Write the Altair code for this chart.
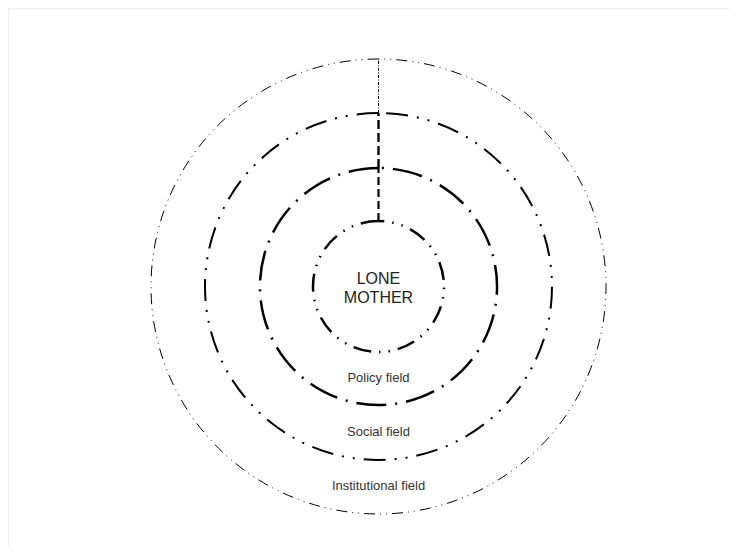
import math
import altair as alt
import pandas as pd

# ---- data -------------------------------------------------------------
ring_names = ["Lone mother", "Policy field", "Social field", "Institutional field"]
ring_radii = [65.5, 118.5, 173.5, 227.5]
field_labels = ["Policy field", "Social field", "Institutional field"]
centre_label = "LONE\nMOTHER"

W, H = 721, 541          # plot area, fits inside the 737x557 window
CX, CY = 370.5, 278.5    # centre of the rings from the plot's top-left

xscale = alt.Scale(domain=[-CX, W - CX], nice=False, zero=False)
yscale = alt.Scale(domain=[-(H - CY), CY], nice=False, zero=False)
rscale = alt.Scale(type="linear", domain=[0, 100], range=[0, 100], zero=True, nice=False)

ring_style = {
    "Lone mother": dict(strokeDash=[18, 8, 1.5, 8, 1.5, 8], strokeWidth=2.5),
    "Policy field": dict(strokeDash=[30, 9, 2, 9], strokeWidth=2.5),
    "Social field": dict(strokeDash=[22, 9, 2, 9, 2, 9], strokeWidth=2),
    "Institutional field": dict(strokeDash=[11, 5, 1, 5, 1, 5], strokeWidth=1),
}
spoke_style = {
    "Policy field": dict(strokeDash=[8, 4], strokeWidth=2.2),
    "Social field": dict(strokeDash=[9, 4], strokeWidth=2.4),
    "Institutional field": dict(strokeDash=[3, 1.5, 1, 1.5], strokeWidth=1),
}

X0 = alt.X(datum=0, type="quantitative", scale=xscale, axis=None)
Y0 = alt.Y(datum=0, type="quantitative", scale=yscale, axis=None)

layers = []

# light frame on the top and left edges (runs on to the window's edge)
frame_top = alt.Chart(pd.DataFrame({"k": [0]})).mark_rule(
    color="#dddddd", strokeWidth=1, clip=False
).encode(
    x=alt.X(datum=-CX, type="quantitative", scale=xscale, axis=None),
    x2=alt.X2(datum=W - CX + 40),
    y=alt.Y(datum=CY, type="quantitative", scale=yscale, axis=None),
)
frame_left = alt.Chart(pd.DataFrame({"k": [0]})).mark_rule(
    color="#dddddd", strokeWidth=1, clip=False
).encode(
    x=alt.X(datum=-CX, type="quantitative", scale=xscale, axis=None),
    y=alt.Y(datum=CY, type="quantitative", scale=yscale, axis=None),
    y2=alt.Y2(datum=-(H - CY) - 40),
)
layers += [frame_top, frame_left]

for name, r in zip(ring_names, ring_radii):
    df = pd.DataFrame({"name": [name], "r": [r]})
    layers.append(
        alt.Chart(df).mark_arc(
            filled=False, fill=None, stroke="black", **ring_style[name]
        ).encode(
            x=X0, y=Y0,
            theta=alt.Theta(datum=math.tau, type="quantitative",
                            scale=alt.Scale(domain=[0, math.tau], range=[0, math.tau])),
            radius=alt.Radius("r:Q", scale=rscale),
        )
    )

for name, r0, r1 in zip(ring_names[1:], ring_radii[:-1], ring_radii[1:]):
    df = pd.DataFrame({"name": [name], "r_from": [r0], "r_to": [r1]})
    layers.append(
        alt.Chart(df).mark_rule(color="black", **spoke_style[name]).encode(
            x=X0,
            y=alt.Y("r_from:Q", scale=yscale, axis=None),
            y2="r_to:Q",
        )
    )

labels = pd.DataFrame({
    "label": field_labels,
    "pos": [-(a + b) / 2 for a, b in zip(ring_radii[:-1], ring_radii[1:])],
})
layers.append(
    alt.Chart(labels).mark_text(
        font="Liberation Sans", fontSize=13, color="#333333", baseline="middle", dy=-1
    ).encode(x=X0, y=alt.Y("pos:Q", scale=yscale, axis=None), text="label:N")
)

centre = pd.DataFrame({"label": [centre_label]})
layers.append(
    alt.Chart(centre).mark_text(
        font="Liberation Sans", fontSize=16, color="#222222", baseline="middle",
        lineBreak="\n", lineHeight=19, dy=-8,
    ).encode(x=X0, y=Y0, text="label:N")
)

chart = alt.layer(*layers).properties(
    width=W, height=H, padding=0,
    autosize=alt.AutoSizeParams(type="none"),
).configure_view(stroke=None)

chart.save("out.html", embed_options={"renderer": "svg", "actions": False})
